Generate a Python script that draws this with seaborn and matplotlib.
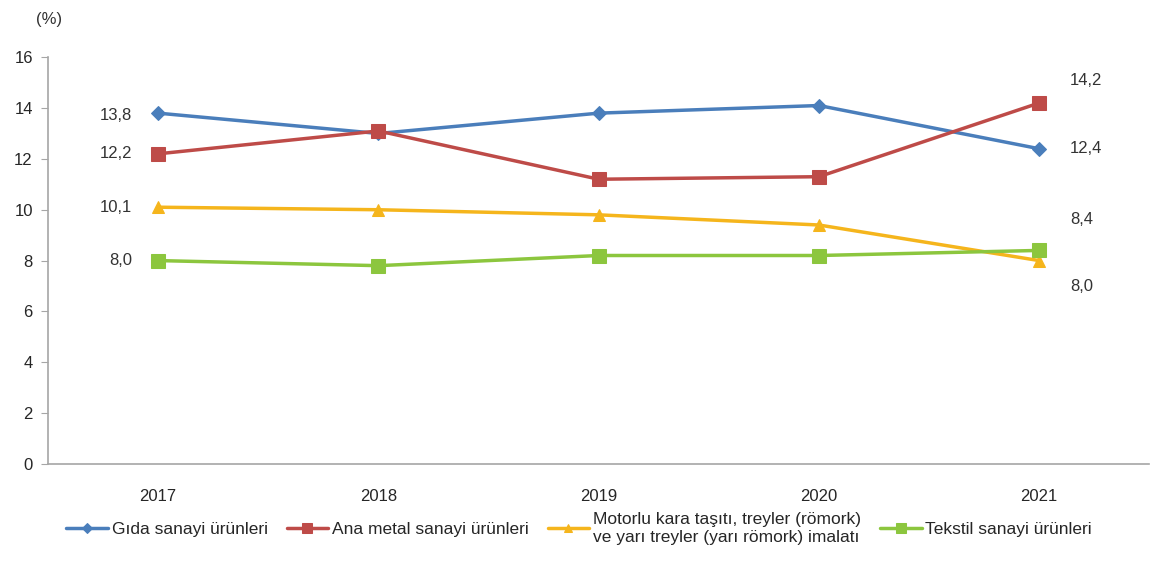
import pandas as pd
import numpy as np
import matplotlib
matplotlib.use('Agg')
import matplotlib.pyplot as plt
import seaborn as sns

years = ['2017', '2018', '2019', '2020', '2021']
gida = [13.8, 13.0, 13.8, 14.1, 12.4]
ana_metal = [12.2, 13.1, 11.2, 11.3, 14.2]
motorlu = [10.1, 10.0, 9.8, 9.4, 8.0]
tekstil = [8.0, 7.8, 8.2, 8.2, 8.4]
names = ['Gıda sanayi ürünleri', 'Ana metal sanayi ürünleri',
         'Motorlu kara taşıtı, treyler (römork)\nve yarı treyler (yarı römork) imalatı',
         'Tekstil sanayi ürünleri']

sns.set_style('white')
plt.rcParams['font.family'] = ['Liberation Sans', 'DejaVu Sans']

colors = ['#4A7EBB', '#BE4B48', '#F5B51C', '#8CC63E']
markers = ['D', 's', '^', 's']
msizes = [7, 10, 9, 10]

df = pd.DataFrame({
    'year': years * 4,
    'pos': list(range(len(years))) * 4,
    'value': gida + ana_metal + motorlu + tekstil,
    'series': np.repeat(names, len(years)),
})

fig = plt.figure(figsize=(11.58, 5.61), dpi=100)
ax = fig.add_axes([0.0415, 0.173, 0.951, 0.725])

for name, c, m, ms in zip(names, colors, markers, msizes):
    sub = df[df['series'] == name]
    sns.lineplot(data=sub, x='pos', y='value', ax=ax, color=c, marker=m,
                 markersize=ms, markeredgecolor=c, linewidth=2.5, label=name)

ax.set_xlim(-0.5, 4.5)
ax.set_ylim(0, 16)
ax.set_yticks(range(0, 17, 2))
ax.set_xticks(range(len(years)))
ax.set_xticklabels(years)
ax.set_xticks(np.arange(-0.5, 5, 1), minor=True)
ax.tick_params(axis='x', which='major', length=0, pad=18, labelsize=12)
ax.tick_params(axis='x', which='minor', length=5, color='#A6A6A6', direction='out')
ax.tick_params(axis='y', length=5, color='#A6A6A6', labelsize=12, pad=6, left=True)
ax.set_xlabel('')
ax.set_ylabel('')
for s in ['top', 'right']:
    ax.spines[s].set_visible(False)
for s in ['left', 'bottom']:
    ax.spines[s].set_color('#A6A6A6')
    ax.spines[s].set_linewidth(1.2)

fig.text(0.031, 0.965, '(%)', fontsize=12, color='#333333', va='center')

# value labels at the ends
lab_kw = dict(fontsize=12, color='#333333', va='center')
ax.text(-0.12, gida[0] - 0.1, '13,8', ha='right', **lab_kw)
ax.text(-0.12, ana_metal[0], '12,2', ha='right', **lab_kw)
ax.text(-0.12, motorlu[0], '10,1', ha='right', **lab_kw)
ax.text(-0.12, tekstil[0], '8,0', ha='right', **lab_kw)
ax.text(4.14, 15.1, '14,2', ha='left', **lab_kw)
ax.text(4.14, gida[4], '12,4', ha='left', **lab_kw)
ax.text(4.14, 9.6, '8,4', ha='left', **lab_kw)
ax.text(4.14, 7.0, '8,0', ha='left', **lab_kw)

handles, labels = ax.get_legend_handles_labels()
ax.get_legend().remove()
fig.legend(handles, labels, loc='upper center', bbox_to_anchor=(0.5, 0.115),
           ncol=4, frameon=False, fontsize=12.5, handlelength=2.4,
           handletextpad=0.2, columnspacing=1.1, markerscale=0.7,
           labelspacing=0.1)

fig.savefig('out.png', dpi=100)
